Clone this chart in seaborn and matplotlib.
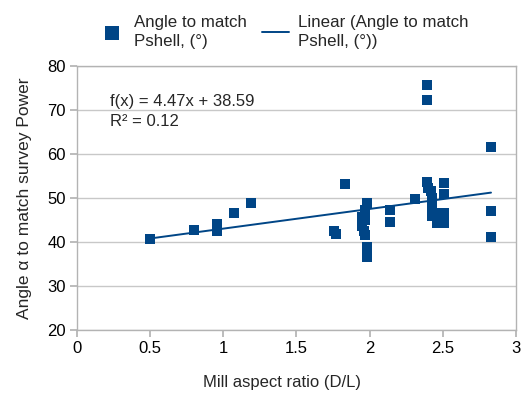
import matplotlib
matplotlib.use("Agg")
import matplotlib.pyplot as plt
import seaborn as sns
import numpy as np
import pandas as pd

aspect_ratio = [0.50, 0.80, 0.96, 0.96, 1.07, 1.19,
                1.76, 1.77, 1.83,
                1.98, 1.97, 1.95, 1.97, 1.95, 1.96, 1.97, 1.98, 1.98,
                2.14, 2.14, 2.31,
                2.395, 2.395,
                2.39, 2.40, 2.42, 2.43, 2.43, 2.43, 2.43, 2.46, 2.46, 2.47,
                2.51, 2.51, 2.51, 2.51, 2.49,
                2.83, 2.83, 2.83]
angle = [40.6, 42.8, 44.2, 42.6, 46.7, 48.8,
         42.6, 41.8, 53.2,
         48.8, 47.2, 45.8, 45.0, 43.6, 42.5, 41.5, 38.9, 36.6,
         47.4, 44.6, 49.8,
         75.6, 72.3,
         53.6, 52.4, 51.5, 50.0, 48.5, 47.0, 46.0, 46.6, 44.3, 45.3,
         53.5, 51.0, 46.6, 44.3, 45.5,
         61.7, 47.0, 41.2]

slope = 4.47
intercept = 38.59
r_squared = 0.12

scatter_label = "Angle to match\nPshell, (°)"
line_label = "Linear (Angle to match\nPshell, (°))"

sns.set_theme(style="white")
plt.rcParams['font.family'] = ['Liberation Sans', 'DejaVu Sans']

color = "#004586"
fs = 12
fig = plt.figure(figsize=(5.28, 3.93), dpi=100)
ax = fig.add_axes([0.146, 0.160, 0.831, 0.672])

df = pd.DataFrame({"x": aspect_ratio, "y": angle})
sns.scatterplot(data=df, x="x", y="y", ax=ax, marker="s", s=62, color=color,
                edgecolor=color, linewidth=0, label=scatter_label, zorder=3)

xmin, xmax = min(aspect_ratio), max(aspect_ratio)
fit = pd.DataFrame({"x": [xmin, xmax], "y": [slope * xmin + intercept, slope * xmax + intercept]})
sns.lineplot(data=fit, x="x", y="y", ax=ax, color=color, linewidth=1.4,
             label=line_label, zorder=4)

ax.set_xlim(0, 3)
ax.set_ylim(20, 80)
ax.set_xticks([0, 0.5, 1, 1.5, 2, 2.5, 3])
ax.set_xticklabels(["0", "0.5", "1", "1.5", "2", "2.5", "3"])
ax.set_yticks(range(20, 81, 10))
ax.yaxis.grid(True, color="#c8c8c8", linewidth=1)
ax.xaxis.grid(False)
for sp in ax.spines.values():
    sp.set_color("#b3b3b3")
    sp.set_linewidth(1)
ax.tick_params(axis="both", which="both", length=5, color="#b3b3b3",
               labelsize=fs, labelcolor="#000000", direction="out",
               bottom=True, left=True, pad=3)
ax.set_xlabel("Mill aspect ratio (D/L)", fontsize=fs, va="center")
ax.set_ylabel("Angle α to match survey Power", fontsize=12.5, va="center")
ax.xaxis.set_label_coords(0.467, -0.197)
ax.yaxis.set_label_coords(-0.12, 0.5)

ax.text(0.225, 72.0, f"f(x) = {slope}x + {intercept}", fontsize=fs, va="center")
ax.text(0.225, 67.3, f"R² = {r_squared}", fontsize=fs, va="center")

leg = ax.legend(loc="lower center", bbox_to_anchor=(0.47, 1.02), ncol=2, frameon=False,
                fontsize=12.2, handlelength=1.6, handletextpad=0.5, columnspacing=0.9,
                borderaxespad=0.3, labelspacing=0.2, markerscale=1.35)
for t in leg.get_texts():
    t.set_linespacing(1.35)

fig.savefig("out.png", dpi=100)
